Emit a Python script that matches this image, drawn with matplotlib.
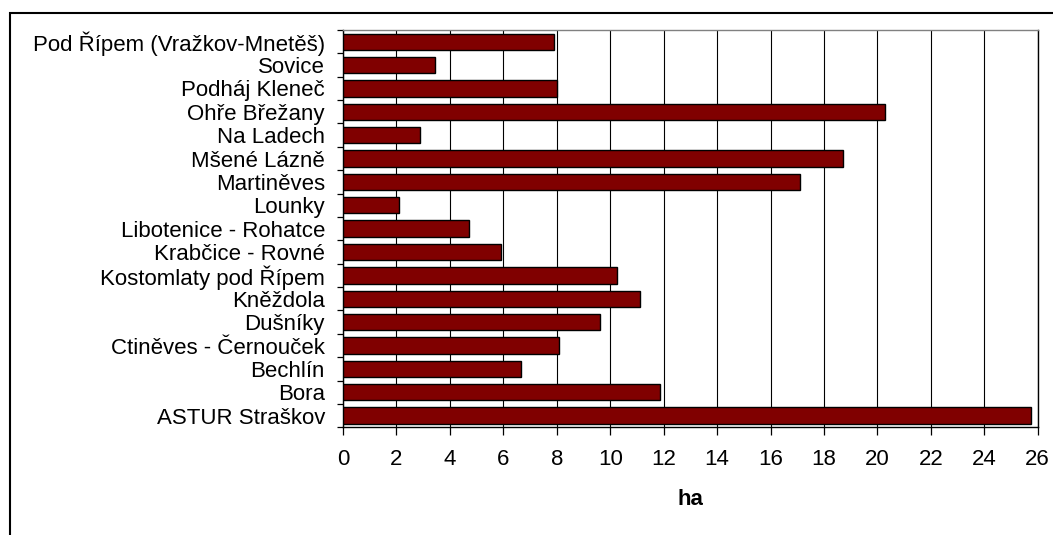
import matplotlib
matplotlib.use("Agg")
import matplotlib.pyplot as plt
from matplotlib.patches import Rectangle
from matplotlib.ticker import FixedLocator

plt.rcParams['font.family'] = ['Liberation Sans', 'DejaVu Sans']

# Areas (ha) by locality, listed top to bottom
localities = [
    "Pod Řípem (Vražkov-Mnetěš)",
    "Sovice",
    "Podháj Kleneč",
    "Ohře Břežany",
    "Na Ladech",
    "Mšené Lázně",
    "Martiněves",
    "Lounky",
    "Libotenice - Rohatce",
    "Krabčice - Rovné",
    "Kostomlaty pod Řípem",
    "Kněždola",
    "Dušníky",
    "Ctiněves - Černouček",
    "Bechlín",
    "Bora",
    "ASTUR Straškov",
]
area_ha = [7.9, 3.45, 8.0, 20.3, 2.9, 18.7, 17.1, 2.1, 4.7, 5.9,
           10.25, 11.1, 9.6, 8.1, 6.65, 11.85, 25.75]

x_ticks = list(range(0, 27, 2))

fig = plt.figure(figsize=(10.53, 5.35), dpi=100)
ax = fig.add_axes([343 / 1053, 1 - 427.3 / 535, (1037.7 - 343) / 1053, (427.3 - 30) / 535])

n = len(localities)
pos = list(range(n))
ax.barh(pos, area_ha, height=0.7, color="#800000", edgecolor="black",
        linewidth=1.0, zorder=3)

ax.set_ylim(n - 0.5, -0.5)
ax.set_xlim(0, 26)
ax.xaxis.set_major_locator(FixedLocator(x_ticks))
ax.set_xticklabels([str(t) for t in x_ticks])
ax.grid(axis="x", color="black", linewidth=0.8, zorder=0)
ax.set_axisbelow(True)

ax.set_yticks(pos)
ax.set_yticklabels(localities)
ax.yaxis.set_minor_locator(FixedLocator([p - 0.5 for p in pos] + [n - 0.5]))
ax.tick_params(axis="y", which="major", length=0, pad=13, labelsize=16)
ax.tick_params(axis="y", which="minor", length=4, width=0.9, direction="out")
ax.tick_params(axis="x", which="major", length=5.5, width=0.9, direction="out",
               pad=10, labelsize=16)

for side in ("left", "bottom", "right"):
    ax.spines[side].set_color("black")
    ax.spines[side].set_linewidth(1.0)
ax.spines["top"].set_color("#808080")
ax.spines["top"].set_linewidth(1.0)

ax.set_xlabel("ha", fontsize=16, fontweight="bold", labelpad=14)

# Chart frame
fig.patches.append(Rectangle((10 / 1053, -0.05), 1.1, 1 - 13 / 535 + 0.05,
                             transform=fig.transFigure, fill=False,
                             edgecolor="black", linewidth=1.5))

fig.savefig("out.png", dpi=100)
